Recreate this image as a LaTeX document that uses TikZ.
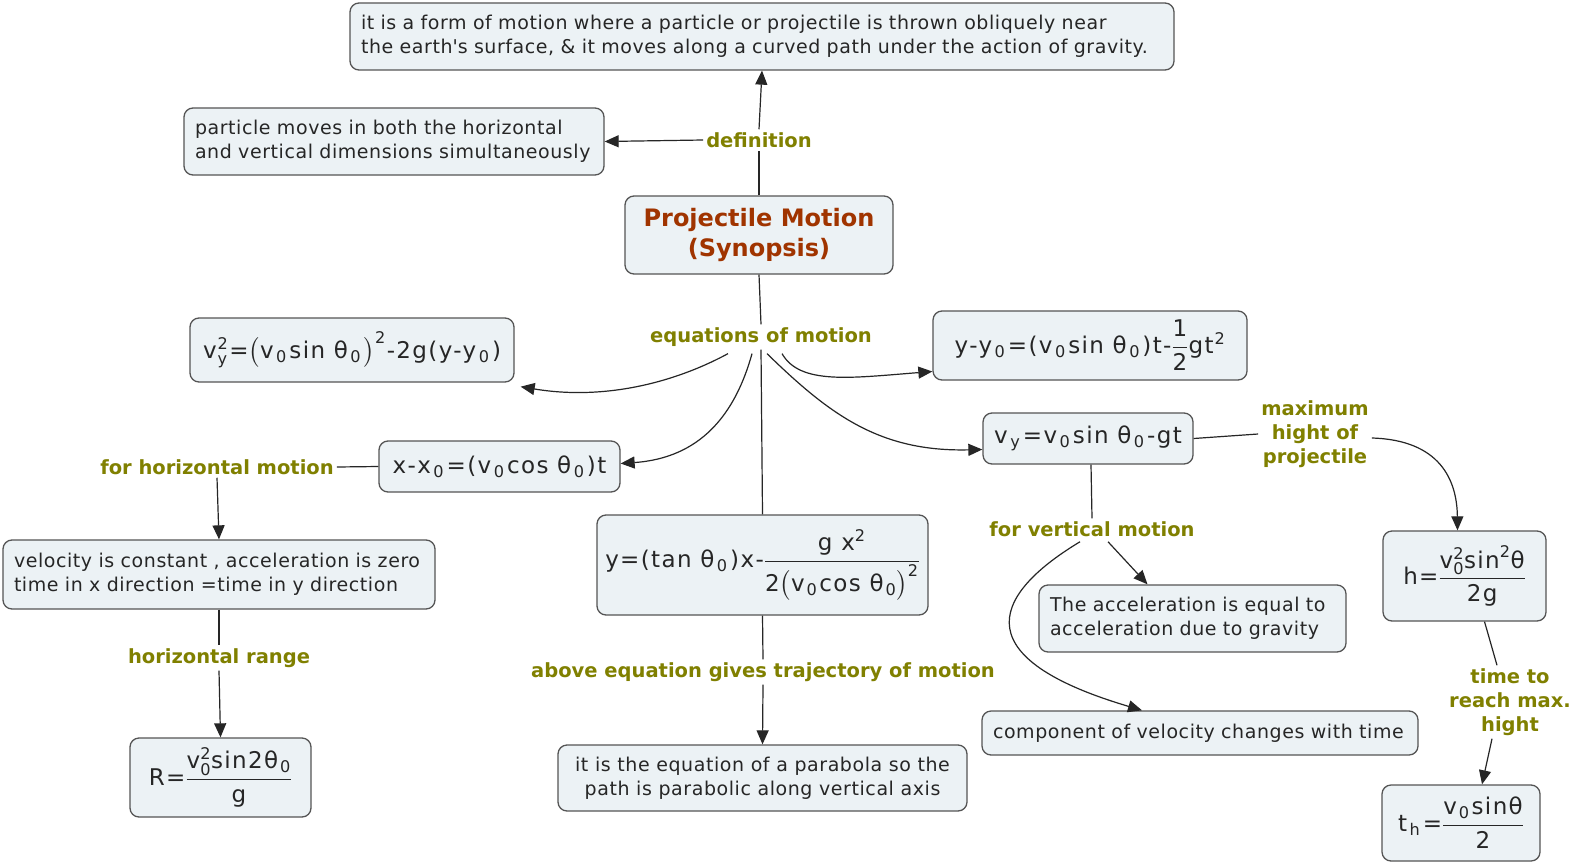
\documentclass[tikz,border=0pt]{standalone}
\usepackage{amsmath}
\usepackage{fontspec}
\setmainfont{DejaVu Sans}
\newfontfamily\fml{DejaVu Sans}[LetterSpace=6]
\newfontfamily\bxf{DejaVu Sans}[LetterSpace=3]
\usetikzlibrary{arrows.meta}
\definecolor{lblc}{RGB}{128,128,0}
\definecolor{titlec}{RGB}{160,52,0}
\definecolor{boxfill}{RGB}{236,242,245}
\definecolor{boxline}{RGB}{85,85,85}
\newcommand\dn[1]{\kern2.5pt\ensuremath{_{\text{#1}}}\kern2.5pt}
\newcommand\up[1]{\kern1pt\ensuremath{^{\text{#1}}}}
\tikzset{
  box/.style={draw=boxline, fill=boxfill, rounded corners=9pt, line width=1.3pt,
    inner xsep=11pt, inner ysep=4pt, align=left, text=black!85, font=\bxf\fontsize{19}{24}\selectfont},
  fbox/.style={box, inner xsep=4pt, align=center, font=\fml\fontsize{23}{24}\selectfont},
  lbl/.style={text=lblc, inner sep=3pt, align=center, font=\bfseries\fontsize{19.5}{24}\selectfont},
  ln/.style={line width=1.2pt, draw=black!85},
  arr/.style={ln, -{Triangle[length=14pt,width=12pt]}},
}
\begin{document}
\begin{tikzpicture}[x=1pt,y=-1pt]
\fill[white] (0,0) rectangle (1578,864);
\useasboundingbox (0,0) rectangle (1578,864);

% boxes
\node[box, text width=802pt, minimum height=67pt] (top) at (762,36.5)
  {it is a form of motion where a particle or projectile is thrown obliquely near\\the earth\textquotesingle s surface, \& it moves along a curved path under the action of gravity.};
\node[box, text width=398pt, minimum height=67pt] (particle) at (394,141.5)
  {particle moves in both the horizontal\\and vertical dimensions simultaneously};
\node[box, minimum width=268pt, minimum height=78pt, align=center, text=titlec,
  font=\bfseries\fontsize{24}{30}\selectfont] (central) at (759,235)
  {Projectile Motion\\(Synopsis)};
\node[fbox, minimum width=324pt, minimum height=64pt] (vy2) at (352,350)
  {v\kern1pt\ensuremath{^{\text{2}}_{\text{y}}}\kern1pt=\ensuremath{\bigl(}v\dn{0}sin θ\dn{0}\ensuremath{\bigr)^{\text{2}}}\kern1pt-2g(y-y\dn{0})};
\node[fbox, minimum width=314pt, minimum height=69pt] (yy0) at (1090,345.5)
  {y-y\dn{0}=(v\dn{0}sin θ\dn{0})t-\ensuremath{\dfrac{\text{1}}{\text{2}}}gt\up{2}};
\node[fbox, minimum width=241pt, minimum height=51pt] (xx0) at (499.5,466.5)
  {x-x\dn{0}=(v\dn{0}cos θ\dn{0})t};
\node[fbox, minimum width=210pt, minimum height=51pt] (vy) at (1088,438.5)
  {v\dn{y}=v\dn{0}sin θ\dn{0}-gt};
\node[fbox, minimum width=331pt, minimum height=100pt] (traj) at (762.5,565)
  {y=(tan θ\dn{0})x-\ensuremath{\dfrac{\text{g x}^{\text{2}}}{\text{2}\bigl(\text{v\kern2pt}_{\text{0}}\text{\kern2pt cos θ\kern2pt}_{\text{0}}\bigr)^{\text{2}}}}};
\node[box, text width=410pt, minimum height=69pt] (velconst) at (219,574.5)
  {velocity is constant , acceleration is zero\\time in x direction =time in y direction};
\node[fbox, minimum width=163pt, minimum height=90pt] (h) at (1464.5,576)
  {h=\ensuremath{\dfrac{\text{v}^{\text{2}}_{\text{0}}\text{sin}^{\text{2}}\text{θ}}{\text{2g}}}};
\node[box, text width=285pt, minimum height=67pt] (accel) at (1192.5,618.5)
  {The acceleration is equal to\\acceleration due to gravity};
\node[box, text width=414pt, minimum height=44pt] (component) at (1200,733)
  {component of velocity changes with time};
\node[fbox, minimum width=181pt, minimum height=79pt] (R) at (220.5,777.5)
  {R=\ensuremath{\dfrac{\text{v}^{\text{2}}_{\text{0}}\text{sin2θ\kern2pt}_{\text{0}}}{\text{g}}}};
\node[box, minimum width=409pt, minimum height=66pt, align=center] (parabola) at (762.5,778)
  {it is the equation of a parabola so the\\path is parabolic along vertical axis};
\node[fbox, minimum width=158pt, minimum height=76pt] (th) at (1461,823)
  {t\dn{h}=\ensuremath{\dfrac{\text{v\kern2pt}_{\text{0}}\text{\kern2pt sinθ}}{\text{2}}}};

% labels
\node[lbl] (deflbl) at (759,140) {definition};
\node[lbl] (eqs) at (761,337) {equations of motion};
\node[lbl] (forhoriz) at (217,467) {for horizontal motion};
\node[lbl] (hrange) at (219,658) {horizontal range};
\node[lbl] (above) at (763,672) {above equation gives trajectory of motion};
\node[lbl] (forvert) at (1092,529) {for vertical motion};
\node[lbl] (maxh) at (1315,434) {maximum\\hight of\\projectile};
\node[lbl] (timeto) at (1510,702) {time to\\reach max.\\hight};

% connectors
\draw[ln] (central.north) -- (deflbl.south);
\draw[arr] (deflbl.north) -- (top.south);
\draw[arr] (deflbl.west) -- (particle.east);
\draw[ln] (central.south) -- (eqs.north);
\draw[arr] ([xshift=-33pt,yshift=-4pt]eqs.south) .. controls (670,385) and (600,400) .. ([xshift=6pt,yshift=-4pt]vy2.south east);
\draw[arr] ([xshift=-9pt,yshift=-4pt]eqs.south) .. controls (735,415) and (700,458) .. ([yshift=3pt]xx0.east);
\draw[ln] (eqs.south) -- (traj.north);
\draw[arr] ([xshift=21pt,yshift=-4pt]eqs.south) .. controls (800,385) and (850,378) .. ([yshift=-26pt]yy0.west);
\draw[arr] ([xshift=6pt,yshift=-4pt]eqs.south) .. controls (830,415) and (880,452) .. ([yshift=-11pt]vy.west);
\draw[ln] (xx0.west) -- (forhoriz.east);
\draw[arr] (forhoriz.south) -- (velconst.north);
\draw[ln] (velconst.south) -- (hrange.north);
\draw[arr] (hrange.south) -- (R.north);
\draw[ln] (traj.south) -- (above.north);
\draw[arr] (above.south) -- (parabola.north);
\draw[ln] ([xshift=3pt]vy.south) -- (forvert.north);
\draw[arr] ([xshift=16pt,yshift=-2pt]forvert.south) -- ([xshift=-45pt]accel.north);
\draw[arr] ([xshift=-12pt,yshift=-2pt]forvert.south) .. controls (1000,590) and (955,655) .. ([xshift=-58pt]component.north);
\draw[ln] (vy.east) -- (maxh.west);
\draw[arr] ([yshift=-4pt]maxh.east) .. controls (1440,440) and (1457,480) .. ([xshift=-7pt]h.north);
\draw[ln] ([xshift=20pt]h.south) -- ([xshift=-13pt]timeto.north);
\draw[arr] ([xshift=-18pt]timeto.south) -- ([xshift=21pt]th.north);
\end{tikzpicture}
\end{document}
